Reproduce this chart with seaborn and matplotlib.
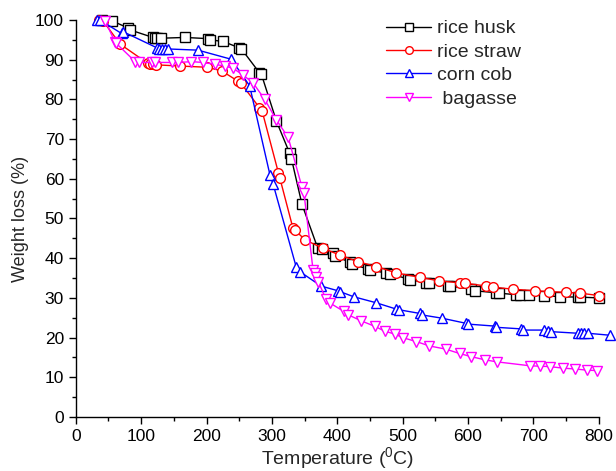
import numpy as np
import pandas as pd
import matplotlib
matplotlib.use('Agg')
import matplotlib.pyplot as plt
import seaborn as sns
from matplotlib.ticker import MultipleLocator

# 稻壳
husk_t = [40, 55, 80, 83, 118, 121, 125, 130, 167, 202, 205, 225, 250, 253, 281, 284, 307, 327, 330, 346,
          370, 376, 393, 396, 419, 422, 447, 450, 475, 480, 508, 512, 536, 540, 569, 572, 605, 610, 643, 647,
          674, 679, 694, 717, 740, 768, 771, 800]
husk_w = [100, 99.8, 98, 97.5, 95.6, 95.5, 95.5, 95.4, 95.6, 95.3, 95, 94.6, 93, 92.8, 86.7, 86.3, 74.5, 66.5, 65, 53.6,
          42.6, 42.3, 41.2, 40.6, 39, 38.5, 37.3, 37, 36.3, 36.1, 34.8, 34.6, 33.8, 33.7, 33.1, 33, 32.2, 31.8, 31.3, 31.2,
          30.8, 30.7, 30.7, 30.6, 30.3, 30.2, 30.2, 30]

# 稻草
straw_t = [35, 42, 68, 110, 114, 118, 123, 159, 200, 223, 248, 253, 281, 285, 310, 312, 332, 335, 351,
           378, 404, 432, 460, 490, 526, 555, 587, 595, 628, 638, 669, 702, 724, 750, 771, 800]
straw_w = [100, 99.7, 93.9, 89.1, 89, 89, 88.7, 88.4, 88.1, 87.2, 84.6, 84, 77.9, 77.1, 61.5, 60.3, 47.7, 47.1, 44.6,
           42.5, 40.8, 39.1, 37.9, 36.3, 35.2, 34.3, 33.8, 33.7, 33, 32.7, 32.2, 31.8, 31.6, 31.4, 31.2, 30.6]

# 玉米芯
cob_t = [33, 37, 70, 73, 124, 128, 132, 137, 141, 187, 238, 266, 297, 302, 337, 343, 375, 401, 404, 425,
         459, 490, 495, 526, 530, 560, 597, 600, 641, 643, 681, 684, 717, 722, 727, 768, 773, 778, 783, 817]
cob_w = [100, 100, 96.6, 97, 93, 92.8, 92.8, 92.8, 92.7, 92.4, 90.1, 83.4, 61, 58.6, 37.9, 36.6, 33, 31.8, 31.6, 30.3,
         28.8, 27.2, 27, 26.1, 25.7, 24.9, 23.6, 23.4, 22.9, 22.6, 22.2, 21.9, 21.9, 21.7, 21.5, 21.1, 21.1, 21.1, 21.1, 20.6]

# 甘蔗渣
bag_t = [45, 60, 62, 91, 96, 116, 121, 147, 157, 177, 195, 213, 228, 241, 256, 271, 289, 307, 325, 346, 349,
         363, 366, 368, 371, 383, 389, 410, 416, 437, 458, 473, 488, 500, 521, 541, 566, 587, 605, 626, 644,
         695, 710, 725, 746, 764, 782, 797]
bag_w = [99.7, 94.5, 94.1, 89.5, 89.3, 89.3, 89.3, 89.3, 89.3, 89.5, 89.3, 88.8, 88.4, 87.8, 86.1, 84.2, 80, 74.8, 70.4, 57.9, 56.5,
         37, 36.2, 35.3, 34.1, 29.6, 28.7, 26.6, 25.8, 24.2, 22.8, 21.6, 20.9, 20, 19, 17.9, 17.1, 16, 15.2, 14.4, 13.9,
         12.9, 12.8, 12.7, 12.3, 12.1, 11.8, 11.7]

sns.set_style('ticks')
plt.rcParams['font.family'] = ['Liberation Sans', 'DejaVu Sans']
plt.rcParams['mathtext.fontset'] = 'custom'
plt.rcParams['mathtext.rm'] = 'Liberation Sans'
plt.rcParams['mathtext.default'] = 'regular'

fig = plt.figure(figsize=(6.16, 4.71), dpi=100)
ax = fig.add_axes([0.123, 0.1146, 0.849, 0.843])

series = [
    (husk_t, husk_w, 'black', 's', 'rice husk'),
    (straw_t, straw_w, 'red', 'o', 'rice straw'),
    (cob_t, cob_w, 'blue', '^', 'corn cob'),
    (bag_t, bag_w, 'magenta', 'v', ' bagasse'),
]
for t, w, c, m, lab in series:
    df = pd.DataFrame({'T': t, 'W': w})
    sns.lineplot(data=df, x='T', y='W', ax=ax, color=c, marker=m, markersize=7,
                 markerfacecolor='white', markeredgecolor=c, markeredgewidth=1,
                 linewidth=1, estimator=None, sort=False, label=lab, clip_on=False)

ax.set_xlim(0, 800)
ax.set_ylim(0, 100)
ax.xaxis.set_major_locator(MultipleLocator(100))
ax.xaxis.set_minor_locator(MultipleLocator(50))
ax.yaxis.set_major_locator(MultipleLocator(10))
ax.yaxis.set_minor_locator(MultipleLocator(5))
ax.tick_params(which='major', direction='out', length=5, width=1, labelsize=12.5, color='black', labelcolor='black')
ax.tick_params(which='minor', direction='out', length=3, width=1, color='black')
for s in ['top', 'right']:
    ax.spines[s].set_visible(False)
for s in ['left', 'bottom']:
    ax.spines[s].set_color('black')
    ax.spines[s].set_linewidth(1)

ax.set_xlabel('Temperature ($^{0}$C)', fontsize=14, labelpad=1)
ax.set_ylabel('Weight loss (%)', fontsize=13, labelpad=4)

leg = ax.legend(loc='upper left', bbox_to_anchor=(0.627, 0.958), bbox_transform=fig.transFigure,
                frameon=False, fontsize=14, handlelength=2.3, numpoints=1, labelspacing=0.3,
                borderpad=0, borderaxespad=0, handletextpad=0.3)
for h in leg.legend_handles:
    h.set_markersize(5.5)

fig.savefig('out.png', dpi=100)
